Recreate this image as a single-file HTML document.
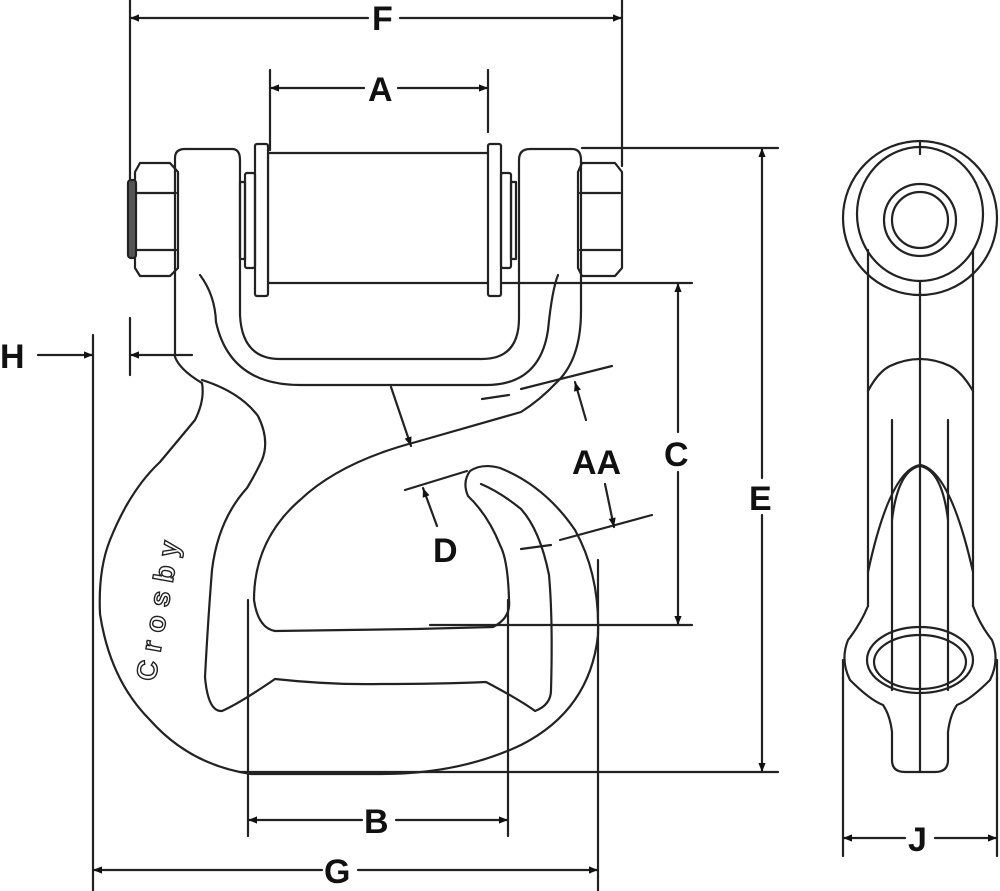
<!DOCTYPE html>
<html><head><meta charset="utf-8"><style>
html,body{margin:0;padding:0;background:#fff}
svg{display:block}
text{font-family:"Liberation Sans",Arial,sans-serif;font-weight:bold;fill:#111}
</style></head><body>
<svg width="1000" height="891" viewBox="0 0 1000 891" xmlns="http://www.w3.org/2000/svg">
<defs>
<marker id="ar" viewBox="0 0 10 10" refX="10" refY="5" markerWidth="16" markerHeight="9" orient="auto-start-reverse" markerUnits="userSpaceOnUse">
<path d="M0,1 L10,5 L0,9 z" fill="#111"/></marker>
</defs>
<g fill="none" stroke="#222" stroke-width="2.2" stroke-linejoin="round" stroke-linecap="round">
<line x1="130" y1="0" x2="130" y2="180"/>
<line x1="622" y1="0" x2="622" y2="166"/>
<line x1="270" y1="70" x2="270" y2="150"/>
<line x1="488" y1="70" x2="488" y2="132"/>
<line x1="582" y1="148" x2="778" y2="148"/>
<line x1="500" y1="283" x2="692" y2="283"/>
<line x1="430" y1="625" x2="692" y2="625"/>
<line x1="240" y1="772" x2="778" y2="772"/>
<line x1="93" y1="335" x2="93" y2="891"/>
<line x1="130" y1="318" x2="130" y2="375"/>
<line x1="598" y1="560" x2="598" y2="891"/>
<line x1="248" y1="600" x2="248" y2="836"/>
<line x1="508" y1="600" x2="508" y2="836"/>
<line x1="843" y1="677" x2="843" y2="856"/>
<line x1="997" y1="677" x2="997" y2="856"/>
<line x1="130" y1="18" x2="368" y2="18" marker-start="url(#ar)"/>
<line x1="400" y1="18" x2="622" y2="18" marker-end="url(#ar)"/>
<line x1="270" y1="88" x2="364" y2="88" marker-start="url(#ar)"/>
<line x1="398" y1="88" x2="488" y2="88" marker-end="url(#ar)"/>
<line x1="762" y1="148" x2="762" y2="478" marker-start="url(#ar)"/>
<line x1="762" y1="515" x2="762" y2="772" marker-end="url(#ar)"/>
<line x1="678" y1="283" x2="678" y2="432" marker-start="url(#ar)"/>
<line x1="678" y1="472" x2="678" y2="625" marker-end="url(#ar)"/>
<line x1="38" y1="355" x2="93" y2="355" marker-end="url(#ar)"/>
<line x1="192" y1="355" x2="130" y2="355" marker-end="url(#ar)"/>
<line x1="93" y1="870" x2="322" y2="870" marker-start="url(#ar)"/>
<line x1="358" y1="870" x2="598" y2="870" marker-end="url(#ar)"/>
<line x1="248" y1="820" x2="362" y2="820" marker-start="url(#ar)"/>
<line x1="396" y1="820" x2="508" y2="820" marker-end="url(#ar)"/>
<line x1="843" y1="838" x2="905" y2="838" marker-start="url(#ar)"/>
<line x1="935" y1="838" x2="997" y2="838" marker-end="url(#ar)"/>
<line x1="391" y1="387" x2="411" y2="446" marker-end="url(#ar)"/>
<line x1="405" y1="490" x2="467" y2="471"/>
<line x1="437" y1="526" x2="423" y2="488" marker-end="url(#ar)"/>
<line x1="521" y1="389" x2="612" y2="366"/>
<line x1="482" y1="399" x2="509" y2="395"/>
<line x1="586" y1="420" x2="575" y2="382" marker-end="url(#ar)"/>
<line x1="560" y1="540" x2="652" y2="515"/>
<line x1="521" y1="549" x2="551" y2="545"/>
<line x1="605" y1="484" x2="614" y2="527" marker-end="url(#ar)"/>

<rect x="268" y="153" width="223" height="130" fill="#fff"/>
<rect x="255" y="144" width="13" height="152" rx="2" fill="#fff"/>
<rect x="488" y="144" width="13" height="152" rx="2" fill="#fff"/>
<rect x="245" y="173" width="10" height="95" rx="2"/>
<rect x="240" y="182" width="5" height="77"/>
<rect x="501" y="173" width="10" height="95" rx="2"/>
<rect x="511" y="182" width="5" height="77"/>
<path d="M140,163 H170 L178,172 V268 L170,276 H140 L135,268 V172 Z"/>
<line x1="137" y1="193" x2="176" y2="193"/><line x1="137" y1="250" x2="176" y2="250"/>
<rect x="128" y="180" width="8" height="78" rx="3" fill="#555"/>
<path d="M582,163 H615 L622,172 V268 L615,276 H582 L578,268 V172 Z"/>
<line x1="580" y1="193" x2="620" y2="193"/><line x1="580" y1="250" x2="620" y2="250"/>
<path d="M175,357 V158 Q175,149 185,149 H232 Q240,149 240,160 V315 Q242,359 280,359 H482 Q519,359 519,318 V160 Q519,149 530,149 H572 Q581,149 581,160 V311 Q581,360 556,383 Q540,400 521,412 L416,442 Q340,462 300,500 Q254,540 254,600 Q258,628 275,631 L416,629 L493,627 Q511,618 509,600 Q508,560 500,545 Q488,515 468,496 Q462,482 470,471 Q482,463 500,468 Q545,486 575,530 Q600,575 598,635 Q590,710 521,745 Q460,774 381,774 H251 Q190,765 150,720 Q110,680 100,614 Q98,570 110,540 Q130,490 160,462 L195,420 Q205,400 202,383 Q180,370 175,357"/>
<path d="M200,275 Q215,295 216,322 Q230,385 300,385 H486 Q540,385 548,330 Q552,290 558,275"/>
<path d="M202,380 Q240,392 258,416 Q270,440 262,460 Q255,475 247,488 Q218,520 212,570 Q208,620 205,677 Q208,712 222,711 Q240,703 275,679 Q330,685 381,684 Q440,684 486,682 Q520,700 535,711 Q551,705 551,690 Q553,620 549,575 Q540,530 521,509 Q500,492 481,484"/>
<circle cx="920" cy="218" r="77"/>
<ellipse cx="920" cy="214" rx="63" ry="67"/>
<circle cx="920" cy="220" r="36"/>
<circle cx="920" cy="220" r="28"/>
<line x1="920" y1="141" x2="920" y2="154"/>
<line x1="920" y1="282" x2="920" y2="772"/>
<line x1="868" y1="250" x2="868" y2="606"/>
<line x1="973" y1="250" x2="973" y2="606"/>
<path d="M868,391 Q878,372 890,366 Q905,359 920,359 Q935,359 950,366 Q962,372 973,391"/>
<line x1="892" y1="420" x2="892" y2="690"/>
<line x1="948" y1="420" x2="948" y2="690"/>
<path d="M868,572 Q890,470 920,465 Q950,470 973,572"/>
<path d="M892,520 Q898,470 920,466 Q942,470 948,520"/>
<path d="M868,606 Q860,625 848,640 Q840,660 850,680 Q870,700 883,705 Q890,715 892,732 V760 Q892,772 905,772 H935 Q948,772 948,760 V732 Q950,715 957,705 Q970,700 990,680 Q1000,660 992,640 Q980,625 973,606"/>
<ellipse cx="920" cy="660" rx="53" ry="33"/>
<ellipse cx="920" cy="662" rx="46" ry="27"/>
<line x1="843" y1="660" x2="843" y2="680"/>
<line x1="997" y1="660" x2="997" y2="680"/>
</g>
<text x="155" y="682" font-size="28" letter-spacing="9" transform="rotate(-80 155 682)" style="font-weight:bold;fill:#fff;stroke:#222;stroke-width:1.4">Crosby</text>
<text x="372" y="30" font-size="34">F</text>
<text x="368" y="101" font-size="34">A</text>
<text x="749" y="510" font-size="34">E</text>
<text x="664" y="466" font-size="34">C</text>
<text x="572" y="474" font-size="34">AA</text>
<text x="433" y="562" font-size="34">D</text>
<text x="0" y="368" font-size="34">H</text>
<text x="324" y="883" font-size="34">G</text>
<text x="364" y="833" font-size="34">B</text>
<text x="908" y="851" font-size="34">J</text>
</svg>
</body></html>
